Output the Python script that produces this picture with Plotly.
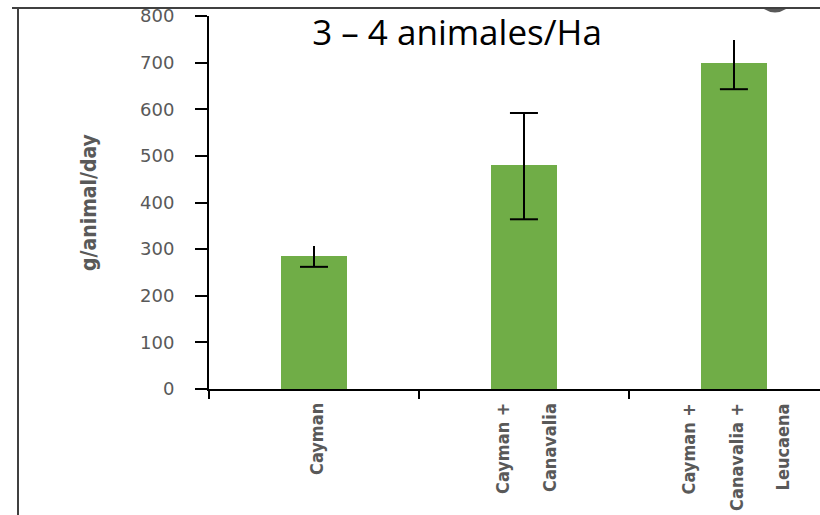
import plotly.graph_objects as go

# ---- data ----
label_lines = [["Cayman"], ["Cayman +", "Canavalia"], ["Cayman +", "Canavalia +", "Leucaena"]]
categories = [" ".join(l) for l in label_lines]
values = [285, 480, 700]
err_plus = [22, 112, 48]
err_minus = [23, 116, 57]
top_cap = [False, True, False]
y_ticks = [0, 100, 200, 300, 400, 500, 600, 700, 800]

W, H = 820, 515
L, R, T, B = 209, 0, 16, 126
PW, PH = W - L - R, H - T - B

def px_x(p):
    return (p - L) / PW

def px_y(p):
    return (H - B - p) / PH

GRAY = "#595959"
GREEN = "#70AD47"
NARROW = "DejaVu Sans Condensed, DejaVu Sans, sans-serif"

fig = go.Figure()
fig.add_trace(go.Bar(
    x=categories, y=values, width=0.314, marker=dict(color=GREEN, line=dict(width=0)),
    error_y=dict(type="data", array=err_plus, arrayminus=err_minus, color="black",
                 thickness=2, width=0, visible=True),
    showlegend=False, hoverinfo="x+y",
))
cap_x, cap_y = [], []
for c, v, p, m, t in zip(categories, values, err_plus, err_minus, top_cap):
    cap_x.append(c); cap_y.append(v - m)
    if t:
        cap_x.append(c); cap_y.append(v + p)
fig.add_trace(go.Scatter(
    x=cap_x, y=cap_y, mode="markers",
    marker=dict(symbol="line-ew", size=20, line=dict(color="black", width=2)),
    showlegend=False, hoverinfo="skip",
))

annotations = []
for c, lines in zip(categories, label_lines):
    n = len(lines)
    for j, line in enumerate(lines):
        annotations.append(dict(
            x=c, xref="x", y=px_y(401), yref="paper", xanchor="center", yanchor="top",
            text=line, textangle=-90, showarrow=False,
            xshift=(j - (n - 1) / 2) * 47 + 2,
            font=dict(family=NARROW, size=18, color=GRAY, weight="bold"),
        ))

shapes = [
    dict(type="rect", xref="paper", yref="paper", x0=px_x(0), x1=px_x(W), y0=px_y(8), y1=px_y(0),
         fillcolor="white", line=dict(width=0), layer="above"),
    dict(type="line", xref="paper", yref="paper", x0=px_x(12), x1=px_x(W), y0=px_y(8), y1=px_y(8),
         line=dict(color="#404040", width=2), layer="above"),
    dict(type="line", xref="paper", yref="paper", x0=px_x(18), x1=px_x(18), y0=px_y(8), y1=px_y(H),
         line=dict(color="#404040", width=2), layer="above"),
    dict(type="path", xref="paper", yref="paper",
         path=f"M {px_x(764)},{px_y(9)} Q {px_x(775)},{px_y(16)} {px_x(786)},{px_y(9)} Z",
         fillcolor="#595959", line=dict(width=0), layer="above"),
]

fig.update_layout(
    width=W, height=H,
    margin=dict(l=L, r=R, t=T, b=B, autoexpand=False),
    paper_bgcolor="white", plot_bgcolor="white",
    title=dict(text="3 – 4 animales/Ha", x=px_x(457), xref="paper", xanchor="center",
               y=1 - 33 / H, yref="container", yanchor="middle",
               font=dict(family="Open Sans, sans-serif", size=35, color="black")),
    xaxis=dict(type="category", range=[-0.5, 2.41], showline=True, linecolor="black", linewidth=2,
               ticks="outside", tickson="boundaries", ticklen=8, tickwidth=2, tickcolor="black",
               showticklabels=False, showgrid=False, zeroline=False, fixedrange=True),
    yaxis=dict(range=[0, 800], tickvals=y_ticks, showline=True, linecolor="black", linewidth=2,
               ticks="outside", ticklen=12, tickwidth=2, tickcolor="black",
               ticklabelstandoff=17,
               tickfont=dict(family="DejaVu Sans, sans-serif", size=18, color=GRAY),
               showgrid=False, zeroline=False, fixedrange=True,
               title=dict(text="g/animal/day", standoff=38,
                          font=dict(family=NARROW, size=21, color=GRAY, weight="bold"))),
    annotations=annotations, shapes=shapes,
    bargap=0.0,
)

fig.write_html("out.html", config={"displayModeBar": False},
               post_script="document.body.style.margin='0';document.body.style.overflow='hidden';")
